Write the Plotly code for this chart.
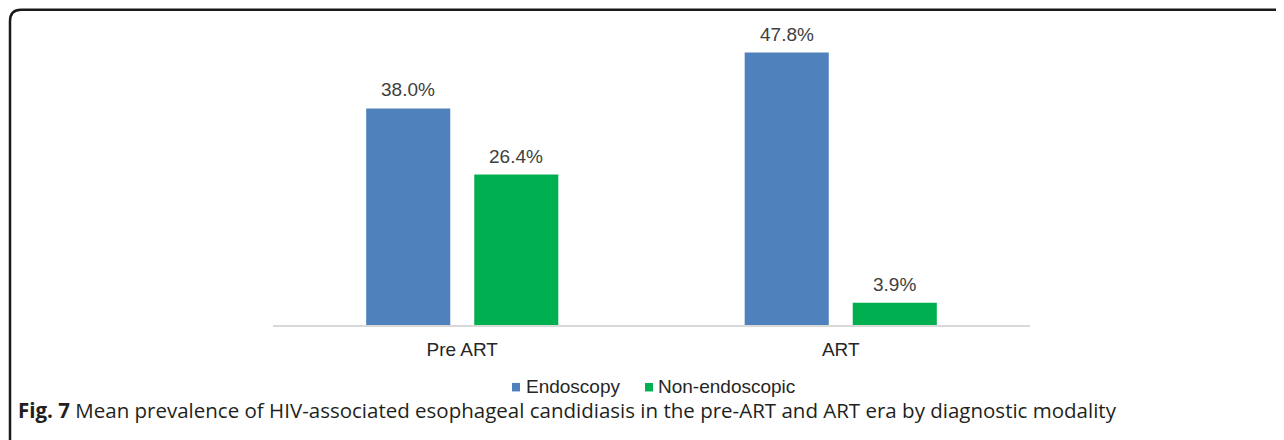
import plotly.graph_objects as go

categories = ["Pre ART", "ART"]
endoscopy = [38.0, 47.8]
non_endoscopic = [26.4, 3.9]
series_names = ["Endoscopy", "Non-endoscopic"]
series_colors = ["#4F81BD", "#00B050"]
caption_bold = "Fig. 7"
caption_rest = " Mean prevalence of HIV-associated esophageal candidiasis in the pre-ART and ART era by diagnostic modality"

W, H = 1284, 440
OFF = 8  # page body margin
L, R = 273 - OFF, 1030 - OFF
B = 325 - OFF
SCALE = 5.705  # px per unit
YMAX = 50
T = B - SCALE * YMAX

def px(x):
    return (x - OFF - L) / (R - L)

def py(y):
    return (B - (y - OFF)) / (B - T)

LABEL_FONT = dict(family="Liberation Sans, Arial", size=19, color="#404040")

fig = go.Figure()
for name, vals, col in zip(series_names, [endoscopy, non_endoscopic], series_colors):
    fig.add_trace(go.Bar(
        x=categories, y=vals, name=name, marker=dict(color=col, line=dict(width=0)),
        showlegend=False,
    ))

bar_shift = 54
for shift, vals in zip([-bar_shift, bar_shift], [endoscopy, non_endoscopic]):
    for c, v in zip(categories, vals):
        fig.add_annotation(x=c, y=v, xref="x", yref="y", text=f"{v:.1f}%",
                           showarrow=False, xanchor="center", yanchor="bottom",
                           xshift=shift, yshift=6, font=LABEL_FONT)

fig.update_layout(
    width=W, height=H,
    margin=dict(l=L, r=W - R, t=T, b=H - B),
    plot_bgcolor="white", paper_bgcolor="white",
    barmode="group", bargap=0.429, bargroupgap=0.222,
    showlegend=False,
    xaxis=dict(showline=True, linecolor="#D9D9D9", linewidth=1.5, ticks="",
               tickfont=dict(family="Liberation Sans, Arial", size=19, color="#262626"),
               ticklabelstandoff=6, fixedrange=True),
    yaxis=dict(range=[0, YMAX], visible=False, showgrid=False, fixedrange=True),
)

# legend (manual, to match compact swatches)
legend_items = [(series_names[0], series_colors[0], 512, 526),
                (series_names[1], series_colors[1], 645, 658)]
for name, col, sx, tx in legend_items:
    fig.add_shape(type="rect", xref="paper", yref="paper",
                  x0=px(sx), x1=px(sx + 8), y0=py(391.5), y1=py(383),
                  fillcolor=col, line=dict(width=0))
    fig.add_annotation(xref="paper", yref="paper", x=px(tx - 2), y=py(386.5),
                       xanchor="left", yanchor="middle", text=name, showarrow=False,
                       font=dict(family="Liberation Sans, Arial", size=19, color="#262626"))

fig.add_annotation(
    xref="paper", yref="paper", x=px(16), y=py(410), xanchor="left", yanchor="middle",
    text="<b>" + caption_bold + "</b>" + caption_rest, showarrow=False,
    font=dict(family="Open Sans, Noto Sans", size=20.5, color="#231F20"),
)

path = (f"M {px(10)} {py(450)} L {px(10)} {py(21)} "
        f"Q {px(10)} {py(9.5)} {px(21)} {py(9.5)} L {px(1300)} {py(9.5)}")
fig.add_shape(type="path", xref="paper", yref="paper", path=path,
              line=dict(color="#1a1a1a", width=2.5))

fig.write_html("out.html")
